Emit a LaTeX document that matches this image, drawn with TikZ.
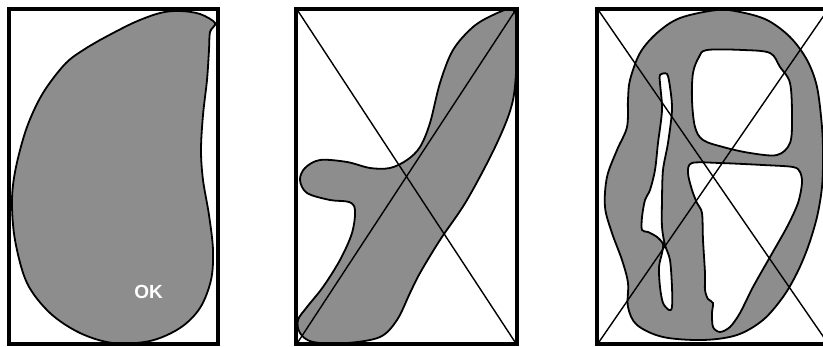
\documentclass[tikz,border=0pt]{standalone}
\usepackage{fontspec}
\setmainfont{Liberation Sans}
\definecolor{shade}{RGB}{141,141,141}
\tikzset{
  blob/.style={fill=shade, draw=black, line width=1.8pt},
  hole/.style={fill=white, draw=black, line width=1.8pt},
  frame/.style={draw=black, line width=4.5pt},
  diag/.style={draw=black, line width=1.4pt}
}
\begin{document}
\begin{tikzpicture}[x=1pt,y=-1pt]
\useasboundingbox (0,0) rectangle (823,347);
\clip (0,0) rectangle (823,347);
% corner coordinates
\coordinate (a1) at (9,9);   \coordinate (a2) at (218,344);
\coordinate (b1) at (296,9); \coordinate (b2) at (517,344);
\coordinate (c1) at (597,9); \coordinate (c2) at (829,344);
\coordinate (bTL) at (298,11); \coordinate (bBR) at (515,342);
\coordinate (bBL) at (298,342); \coordinate (bTR) at (515,11);
\coordinate (cTL) at (599,11); \coordinate (cBR) at (827,342);
\coordinate (cBL) at (599,342); \coordinate (cTR) at (827,11);

% panel 1
\draw[blob] plot[smooth cycle, tension=0.55] coordinates {
 (215,23) (200,14) (180,11) (160,13) (133,23) (100,40) (88,47) (66,63)
 (43,93) (27,127) (16,167) (12,200) (15,240) (27,283) (50,313) (80,333)
 (113,343) (150,341) (180,328) (200,308) (211,280) (213,250) (209,215)
 (203,180) (201,150) (203,115) (207,80) (209,50) (210,32)};
\node[text=white, font=\fontsize{19}{19}\selectfont\bfseries] (ok) at (148.5,291.5) {OK};

% panel 2
\draw[blob] plot[smooth cycle, tension=0.55] coordinates {
 (511,9) (517,20) (517,50) (513,100) (497,143) (467,200) (440,240)
 (420,273) (410,293) (397,320) (380,337) (347,343) (313,342) (300,333)
 (298,320) (307,307) (323,287) (340,260) (352,233) (355,210) (349,202)
 (330,200) (307,193) (300,180) (305,168) (320,160) (347,162) (370,168)
 (390,168) (407,160) (420,147) (430,123) (440,83) (453,50) (473,27) (493,15)};

% panel 3
\draw[blob] plot[smooth cycle, tension=0.55] coordinates {
 (717,10) (680,18) (657,33) (640,53) (630,80) (628,100) (627,127)
 (617,150) (607,177) (605,207) (612,233) (622,260) (628,283) (628,307)
 (637,325) (663,337) (703,340) (737,335) (763,320) (783,297) (797,273)
 (808,247) (817,217) (822,187) (823,157) (822,127) (817,87) (807,60)
 (790,37) (767,20) (740,12)};
\draw[hole] plot[smooth cycle, tension=0.55] coordinates {
 (707,50) (743,50) (770,53) (780,67) (790,83) (792,117) (790,143)
 (777,155) (750,153) (723,147) (703,140) (695,127) (692,100) (693,73) (699,57)};
\draw[hole] plot[smooth cycle, tension=0.5] coordinates {
 (692,163) (720,163) (763,165) (793,167) (800,172) (802,183) (798,203)
 (787,227) (770,257) (753,287) (740,313) (730,327) (720,332) (713,327)
 (712,313) (713,303) (708,299) (705,290) (705,273) (703,240) (702,213)
 (697,203) (692,190) (688,173)};
\draw[hole] plot[smooth cycle, tension=0.5] coordinates {
 (660,75) (667,74) (670,87) (672,110) (668,143) (663,170) (662,200)
 (662,227) (665,245) (670,260) (672,287) (672,307) (669,310) (663,303)
 (660,287) (659,267) (662,253) (663,244) (657,237) (648,232) (642,230)
 (642,217) (645,200) (650,190) (655,170) (658,143) (662,110) (660,83)};

% diagonals
\draw[diag] (bTL) -- (bBR);
\draw[diag] (bBL) -- (bTR);
\draw[diag] (cTL) -- (cBR);
\draw[diag] (cBL) -- (cTR);

% frames
\draw[frame] (a1) rectangle (a2);
\draw[frame] (b1) rectangle (b2);
\draw[frame] (c1) rectangle (c2);
\end{tikzpicture}
\end{document}
